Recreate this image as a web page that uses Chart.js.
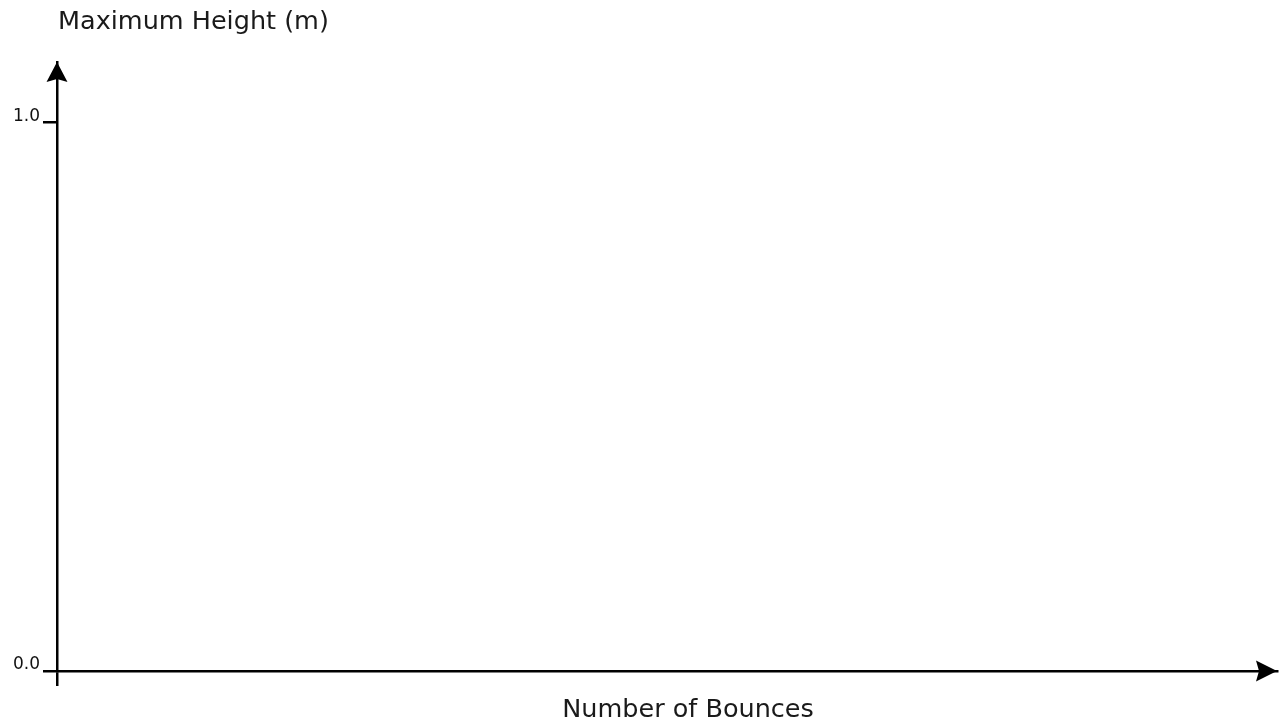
<!DOCTYPE html>
<html>
<head>
<meta charset="utf-8">
<title>Maximum Height vs Number of Bounces</title>
<script src="https://cdn.jsdelivr.net/npm/chart.js@4.4.1/dist/chart.umd.min.js"></script>
<style>
  html, body { margin: 0; padding: 0; background: #fff; }
  #wrap { width: 1280px; height: 723px; position: relative; }
</style>
</head>
<body>
<div id="wrap"><canvas id="bounceChart"></canvas></div>
<script>
// chart data (the reference shows empty axes, no plotted points)
const bounces = [];
const heights = [];
const yTickValues = [0, 1];
const yTickLabels = ["0.0", "1.0"];
const xTickValues = [0];
const yAxisTitle = "Maximum Height (m)";
const xAxisTitle = "Number of Bounces";

const ink = "#000";

// draws arrow heads and the two axis titles
const axisArrows = {
    id: "axisArrows",
    afterDraw(chart) {
        const { ctx, chartArea } = chart;
        const x0 = chart.scales.x.getPixelForValue(0);
        const y0 = chart.scales.y.getPixelForValue(0);
        ctx.save();
        ctx.fillStyle = ink;

        // up arrow on y axis
        ctx.beginPath();
        ctx.moveTo(x0, chartArea.top);
        ctx.lineTo(x0 - 10.5, chartArea.top + 20);
        ctx.lineTo(x0, chartArea.top + 17);
        ctx.lineTo(x0 + 10.5, chartArea.top + 20);
        ctx.closePath();
        ctx.fill();

        // right arrow on x axis
        ctx.beginPath();
        ctx.moveTo(chartArea.right, y0);
        ctx.lineTo(chartArea.right - 21, y0 - 10.5);
        ctx.lineTo(chartArea.right - 18, y0);
        ctx.lineTo(chartArea.right - 21, y0 + 10.5);
        ctx.closePath();
        ctx.fill();

        ctx.font = "25.5px 'DejaVu Sans'";
        ctx.fillStyle = "#1a1a1a";
        ctx.textBaseline = "alphabetic";
        ctx.textAlign = "left";
        ctx.fillText(yAxisTitle, x0 + 1, 29);
        ctx.textAlign = "center";
        ctx.fillText(xAxisTitle, 688, 717);
        ctx.restore();
    }
};

document.addEventListener("DOMContentLoaded", function () {
    const ctx = document.getElementById("bounceChart").getContext("2d");
    new Chart(ctx, {
        type: "scatter",
        data: {
            datasets: [{
                label: "Maximum height",
                data: bounces.map((b, i) => ({ x: b, y: heights[i] })),
                borderColor: ink,
                backgroundColor: ink,
                pointRadius: 4
            }]
        },
        options: {
            responsive: true,
            maintainAspectRatio: false,
            animation: false,
            devicePixelRatio: 1,
            layout: { padding: { top: 62, right: 3, bottom: 37, left: 0 } },
            plugins: {
                legend: { display: false },
                title: { display: false },
                tooltip: { enabled: false }
            },
            scales: {
                x: {
                    type: "linear",
                    min: 0,
                    max: 10,
                    afterBuildTicks: (axis) => { axis.ticks = xTickValues.map(v => ({ value: v })); },
                    ticks: { display: false },
                    grid: { drawOnChartArea: false, tickLength: 15, color: ink, lineWidth: 2.5 },
                    border: { display: true, color: ink, width: 2.5 }
                },
                y: {
                    type: "linear",
                    min: 0,
                    max: 1.11,
                    afterBuildTicks: (axis) => { axis.ticks = yTickValues.map(v => ({ value: v })); },
                    afterFit: (axis) => { axis.width = 57; },
                    ticks: {
                        callback: (value, i) => yTickLabels[i],
                        font: { family: "'DejaVu Sans'", size: 17 },
                        color: "#111",
                        padding: 3,
                        labelOffset: -6
                    },
                    grid: { drawOnChartArea: false, tickLength: 14, color: ink, lineWidth: 2.5 },
                    border: { display: true, color: ink, width: 2.5 }
                }
            }
        },
        plugins: [axisArrows]
    });
});
</script>
</body>
</html>
